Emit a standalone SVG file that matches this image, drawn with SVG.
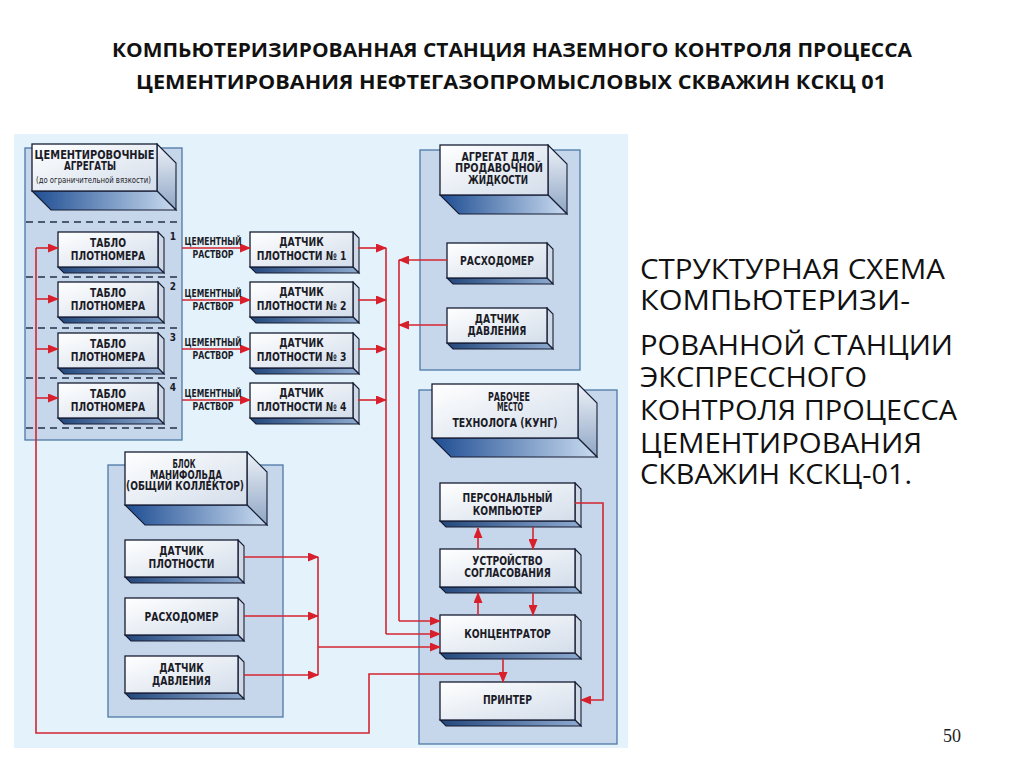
<svg xmlns="http://www.w3.org/2000/svg" width="1024" height="767" viewBox="0 0 1024 767">
<style>
.panel{fill:#c7d7eb;stroke:#4f78a6;stroke-width:1.3}
.front{fill:url(#gFront);stroke:#161d33;stroke-width:1.3}
.side{fill:url(#gSide);stroke:#161d33;stroke-width:1.1}
.bot{fill:url(#gBot);stroke:#161d33;stroke-width:1.1}
.sside{fill:#cfd9e6;stroke:#161d33;stroke-width:1.1}
.sbot{fill:url(#gSBot);stroke:#161d33;stroke-width:1.1}
.lbl{font-family:'DejaVu Sans Condensed','Liberation Sans',sans-serif;font-weight:bold;font-size:12.5px;fill:#1c1c28;text-anchor:middle}
.hdr{font-family:'DejaVu Sans Condensed','Liberation Sans',sans-serif;font-weight:bold;font-size:12px;fill:#1c1c28;text-anchor:middle}
.sm{font-family:'DejaVu Sans Condensed','Liberation Sans',sans-serif;font-weight:bold;font-size:10px;fill:#1c1c28;text-anchor:middle}
.dash{stroke:#263049;stroke-width:1.6;stroke-dasharray:7 5}
.wire{fill:none;stroke:#d42530;stroke-width:1.6}
.arr{marker-end:url(#ah)}
.title{font-family:'Open Sans','Liberation Sans',sans-serif;font-weight:bold;font-size:19px;fill:#111;text-anchor:middle}
.body{font-family:'Open Sans','Liberation Sans',sans-serif;font-size:28px;fill:#111}
</style>
<defs>
<linearGradient id="gFront" x1="0" y1="0" x2="1" y2="1">
<stop offset="0" stop-color="#ffffff"/><stop offset="1" stop-color="#d3ddea"/>
</linearGradient>
<linearGradient id="gSide" x1="0" y1="0" x2="0" y2="1">
<stop offset="0" stop-color="#eef2f8"/><stop offset="1" stop-color="#8ea5c4"/>
</linearGradient>
<linearGradient id="gBot" x1="0" y1="0" x2="1" y2="0">
<stop offset="0" stop-color="#1e4d92"/><stop offset="1" stop-color="#c9dbf0"/>
</linearGradient>
<linearGradient id="gSBot" x1="0" y1="0" x2="1" y2="0">
<stop offset="0" stop-color="#23477c"/><stop offset="1" stop-color="#8eaad0"/>
</linearGradient>
<marker id="ah" markerUnits="userSpaceOnUse" markerWidth="11" markerHeight="9" refX="10" refY="4.5" orient="auto">
<path d="M0,0 L11,4.5 L0,9 z" fill="#d8202d"/>
</marker>
<g id="b100">
<polygon class="sside" points="100,0 106,6 106,41 100,35"/>
<polygon class="sbot" points="0,35 100,35 106,41 6,41"/>
<rect class="front" x="0" y="0" width="100" height="35"/>
</g>
<g id="b103">
<polygon class="sside" points="103,0 109,6 109,41 103,35"/>
<polygon class="sbot" points="0,35 103,35 109,41 6,41"/>
<rect class="front" x="0" y="0" width="103" height="35"/>
</g>
<g id="b113">
<polygon class="sside" points="113,0 119,6 119,43 113,37"/>
<polygon class="sbot" points="0,37 113,37 119,43 6,43"/>
<rect class="front" x="0" y="0" width="113" height="37"/>
</g>
<g id="b135">
<polygon class="sside" points="135,0 141,6 141,44 135,38"/>
<polygon class="sbot" points="0,38 135,38 141,44 6,44"/>
<rect class="front" x="0" y="0" width="135" height="38"/>
</g>
</defs>

<rect x="0" y="0" width="1024" height="767" fill="#ffffff"/>

<text class="title" x="512" y="57" textLength="800" lengthAdjust="spacingAndGlyphs">КОМПЬЮТЕРИЗИРОВАННАЯ СТАНЦИЯ НАЗЕМНОГО КОНТРОЛЯ ПРОЦЕССА</text>
<text class="title" x="511" y="89" textLength="750" lengthAdjust="spacingAndGlyphs">ЦЕМЕНТИРОВАНИЯ НЕФТЕГАЗОПРОМЫСЛОВЫХ СКВАЖИН КСКЦ 01</text>

<rect x="14" y="134" width="614" height="614" fill="#e3f2fb"/>

<g id="panels">
<rect class="panel" x="25" y="148" width="157" height="292"/>
<rect class="panel" x="420" y="150" width="160" height="220"/>
<rect class="panel" x="108" y="465" width="175" height="252"/>
<rect class="panel" x="419" y="390" width="198" height="354"/>
<line class="dash" x1="26" y1="222" x2="181" y2="222"/>
<line class="dash" x1="26" y1="277" x2="181" y2="277"/>
<line class="dash" x1="26" y1="328" x2="181" y2="328"/>
<line class="dash" x1="26" y1="378" x2="181" y2="378"/>
<line class="dash" x1="26" y1="428" x2="181" y2="428"/>
</g>

<g id="hdr-cement">
<polygon class="side" points="157,144 176,163 176,210 157,191"/>
<polygon class="bot" points="32,191 157,191 176,210 51,210"/>
<rect class="front" x="32" y="144" width="125" height="47"/>
<text class="hdr" x="94.5" y="159" textLength="120" lengthAdjust="spacingAndGlyphs">ЦЕМЕНТИРОВОЧНЫЕ</text>
<text class="hdr" x="90" y="170" textLength="52" lengthAdjust="spacingAndGlyphs">АГРЕГАТЫ</text>
<text class="hdr" x="93.5" y="183" style="font-size:8px;font-weight:normal" textLength="115" lengthAdjust="spacingAndGlyphs">(до ограничительной вязкости)</text>
</g>

<g id="hdr-agregat">
<polygon class="side" points="548,145 567,164 567,214 548,195"/>
<polygon class="bot" points="440,195 548,195 567,214 459,214"/>
<rect class="front" x="440" y="145" width="108" height="50"/>
<text class="hdr" x="498" y="161" textLength="73" lengthAdjust="spacingAndGlyphs">АГРЕГАТ ДЛЯ</text>
<text class="hdr" x="499" y="172" textLength="88" lengthAdjust="spacingAndGlyphs">ПРОДАВОЧНОЙ</text>
<text class="hdr" x="498" y="184" textLength="60" lengthAdjust="spacingAndGlyphs">ЖИДКОСТИ</text>
</g>

<g id="hdr-manifold">
<polygon class="side" points="247,452 267,472 267,525 247,505"/>
<polygon class="bot" points="125,505 247,505 267,525 145,525"/>
<rect class="front" x="125" y="452" width="122" height="53"/>
<text class="hdr" x="184" y="468" textLength="23" lengthAdjust="spacingAndGlyphs">БЛОК</text>
<text class="hdr" x="186" y="479" textLength="72" lengthAdjust="spacingAndGlyphs">МАНИФОЛЬДА</text>
<text class="hdr" x="185" y="490" textLength="118" lengthAdjust="spacingAndGlyphs">(ОБЩИЙ КОЛЛЕКТОР)</text>
</g>

<g id="hdr-workplace">
<polygon class="side" points="578,384 597,403 597,457 578,438"/>
<polygon class="bot" points="432,438 578,438 597,457 451,457"/>
<rect class="front" x="432" y="384" width="146" height="54"/>
<text class="hdr" x="509" y="401" textLength="42" lengthAdjust="spacingAndGlyphs">РАБОЧЕЕ</text>
<text class="hdr" x="510" y="411" textLength="26" lengthAdjust="spacingAndGlyphs">МЕСТО</text>
<text class="hdr" x="505" y="427" textLength="105" lengthAdjust="spacingAndGlyphs">ТЕХНОЛОГА (КУНГ)</text>
</g>

<g id="tablo1"><use href="#b100" x="58" y="232"/><text class="lbl" transform="translate(108,247) scale(0.82,1)">ТАБЛО</text><text class="lbl" transform="translate(108,260) scale(0.82,1)">ПЛОТНОМЕРА</text><text class="sm" x="173" y="240">1</text></g>
<g id="tablo2"><use href="#b100" x="58" y="282"/><text class="lbl" transform="translate(108,297) scale(0.82,1)">ТАБЛО</text><text class="lbl" transform="translate(108,310) scale(0.82,1)">ПЛОТНОМЕРА</text><text class="sm" x="173" y="290">2</text></g>
<g id="tablo3"><use href="#b100" x="58" y="333"/><text class="lbl" transform="translate(108,348) scale(0.82,1)">ТАБЛО</text><text class="lbl" transform="translate(108,361) scale(0.82,1)">ПЛОТНОМЕРА</text><text class="sm" x="173" y="341">3</text></g>
<g id="tablo4"><use href="#b100" x="58" y="383"/><text class="lbl" transform="translate(108,398) scale(0.82,1)">ТАБЛО</text><text class="lbl" transform="translate(108,411) scale(0.82,1)">ПЛОТНОМЕРА</text><text class="sm" x="173" y="391">4</text></g>

<g id="dens1"><use href="#b103" x="250" y="232"/><text class="lbl" transform="translate(301.5,246) scale(0.82,1)">ДАТЧИК</text><text class="lbl" transform="translate(301.5,260) scale(0.82,1)">ПЛОТНОСТИ № 1</text></g>
<g id="dens2"><use href="#b103" x="250" y="282"/><text class="lbl" transform="translate(301.5,296) scale(0.82,1)">ДАТЧИК</text><text class="lbl" transform="translate(301.5,310) scale(0.82,1)">ПЛОТНОСТИ № 2</text></g>
<g id="dens3"><use href="#b103" x="250" y="333"/><text class="lbl" transform="translate(301.5,347) scale(0.82,1)">ДАТЧИК</text><text class="lbl" transform="translate(301.5,361) scale(0.82,1)">ПЛОТНОСТИ № 3</text></g>
<g id="dens4"><use href="#b103" x="250" y="383"/><text class="lbl" transform="translate(301.5,397) scale(0.82,1)">ДАТЧИК</text><text class="lbl" transform="translate(301.5,411) scale(0.82,1)">ПЛОТНОСТИ № 4</text></g>

<g id="flow-agg"><use href="#b100" x="447" y="243"/><text class="lbl" transform="translate(497,265) scale(0.82,1)">РАСХОДОМЕР</text></g>
<g id="press-agg"><use href="#b100" x="447" y="308"/><text class="lbl" transform="translate(497,323) scale(0.82,1)">ДАТЧИК</text><text class="lbl" transform="translate(497,335) scale(0.82,1)">ДАВЛЕНИЯ</text></g>

<g id="dens-man"><use href="#b113" x="125" y="540"/><text class="lbl" transform="translate(181.5,555) scale(0.82,1)">ДАТЧИК</text><text class="lbl" transform="translate(181.5,568) scale(0.82,1)">ПЛОТНОСТИ</text></g>
<g id="flow-man"><use href="#b113" x="125" y="598"/><text class="lbl" transform="translate(181.5,621) scale(0.82,1)">РАСХОДОМЕР</text></g>
<g id="press-man"><use href="#b113" x="125" y="656"/><text class="lbl" transform="translate(181.5,672) scale(0.82,1)">ДАТЧИК</text><text class="lbl" transform="translate(181.5,685) scale(0.82,1)">ДАВЛЕНИЯ</text></g>

<g id="pc"><use href="#b135" x="440" y="483"/><text class="lbl" transform="translate(507.5,502) scale(0.82,1)">ПЕРСОНАЛЬНЫЙ</text><text class="lbl" transform="translate(507.5,515) scale(0.82,1)">КОМПЬЮТЕР</text></g>
<g id="interface"><use href="#b135" x="440" y="549"/><text class="lbl" transform="translate(507.5,565) scale(0.82,1)">УСТРОЙСТВО</text><text class="lbl" transform="translate(507.5,577) scale(0.82,1)">СОГЛАСОВАНИЯ</text></g>
<g id="hub"><use href="#b135" x="440" y="615"/><text class="lbl" transform="translate(507.5,638) scale(0.82,1)">КОНЦЕНТРАТОР</text></g>
<g id="printer"><use href="#b135" x="440" y="682"/><text class="lbl" transform="translate(507.5,704) scale(0.82,1)">ПРИНТЕР</text></g>

<g id="connectors">
<path class="wire" d="M503 674 H369 V733 H36 V248"/>
<path class="wire arr" d="M36 248 H58"/>
<path class="wire arr" d="M36 299 H58"/>
<path class="wire arr" d="M36 349 H58"/>
<path class="wire arr" d="M36 398 H58"/>
<path class="wire arr" d="M182 248 H250"/>
<path class="wire arr" d="M182 300 H250"/>
<path class="wire arr" d="M182 349 H250"/>
<path class="wire arr" d="M182 400 H250"/>
<path class="wire arr" d="M358 248 H386"/>
<path class="wire arr" d="M358 300 H386"/>
<path class="wire arr" d="M358 349 H386"/>
<path class="wire arr" d="M358 400 H386"/>
<path class="wire" d="M386 248 V634"/>
<path class="wire arr" d="M386 634 H440"/>
<path class="wire arr" d="M447 260 H399"/>
<path class="wire arr" d="M447 325 H399"/>
<path class="wire" d="M399 260 V621"/>
<path class="wire arr" d="M399 621 H440"/>
<path class="wire arr" d="M244 557 H318"/>
<path class="wire arr" d="M244 616 H318"/>
<path class="wire arr" d="M244 675 H318"/>
<path class="wire" d="M318 557 V675"/>
<path class="wire arr" d="M318 647 H440"/>
<path class="wire arr" d="M478 549 V528"/>
<path class="wire arr" d="M533 527 V549"/>
<path class="wire arr" d="M478 615 V593"/>
<path class="wire arr" d="M533 593 V615"/>
<path class="wire arr" d="M503 659 V682"/>
<path class="wire arr" d="M575 503 H603 V700 H581"/>
</g>

<g id="caption">
<text class="body" x="640" y="279" textLength="305" lengthAdjust="spacingAndGlyphs">СТРУКТУРНАЯ СХЕМА</text>
<text class="body" x="640" y="310" textLength="270" lengthAdjust="spacingAndGlyphs">КОМПЬЮТЕРИЗИ-</text>
<text class="body" x="640" y="355" textLength="313" lengthAdjust="spacingAndGlyphs">РОВАННОЙ СТАНЦИИ</text>
<text class="body" x="640" y="387" textLength="227" lengthAdjust="spacingAndGlyphs">ЭКСПРЕССНОГО</text>
<text class="body" x="640" y="420" textLength="317" lengthAdjust="spacingAndGlyphs">КОНТРОЛЯ ПРОЦЕССА</text>
<text class="body" x="640" y="453" textLength="282" lengthAdjust="spacingAndGlyphs">ЦЕМЕНТИРОВАНИЯ</text>
<text class="body" x="640" y="484" textLength="272" lengthAdjust="spacingAndGlyphs">СКВАЖИН КСКЦ-01.</text>
</g>

<g id="labels">
<text class="sm" x="213" y="245" textLength="57" lengthAdjust="spacingAndGlyphs">ЦЕМЕНТНЫЙ</text><text class="sm" x="213" y="258" textLength="41" lengthAdjust="spacingAndGlyphs">РАСТВОР</text>
<text class="sm" x="213" y="297" textLength="57" lengthAdjust="spacingAndGlyphs">ЦЕМЕНТНЫЙ</text><text class="sm" x="213" y="310" textLength="41" lengthAdjust="spacingAndGlyphs">РАСТВОР</text>
<text class="sm" x="213" y="346" textLength="57" lengthAdjust="spacingAndGlyphs">ЦЕМЕНТНЫЙ</text><text class="sm" x="213" y="359" textLength="41" lengthAdjust="spacingAndGlyphs">РАСТВОР</text>
<text class="sm" x="213" y="397" textLength="57" lengthAdjust="spacingAndGlyphs">ЦЕМЕНТНЫЙ</text><text class="sm" x="213" y="410" textLength="41" lengthAdjust="spacingAndGlyphs">РАСТВОР</text>
</g>

<text x="952" y="742" font-family="'Liberation Serif',serif" font-size="18" fill="#222" text-anchor="middle">50</text>
</svg>
